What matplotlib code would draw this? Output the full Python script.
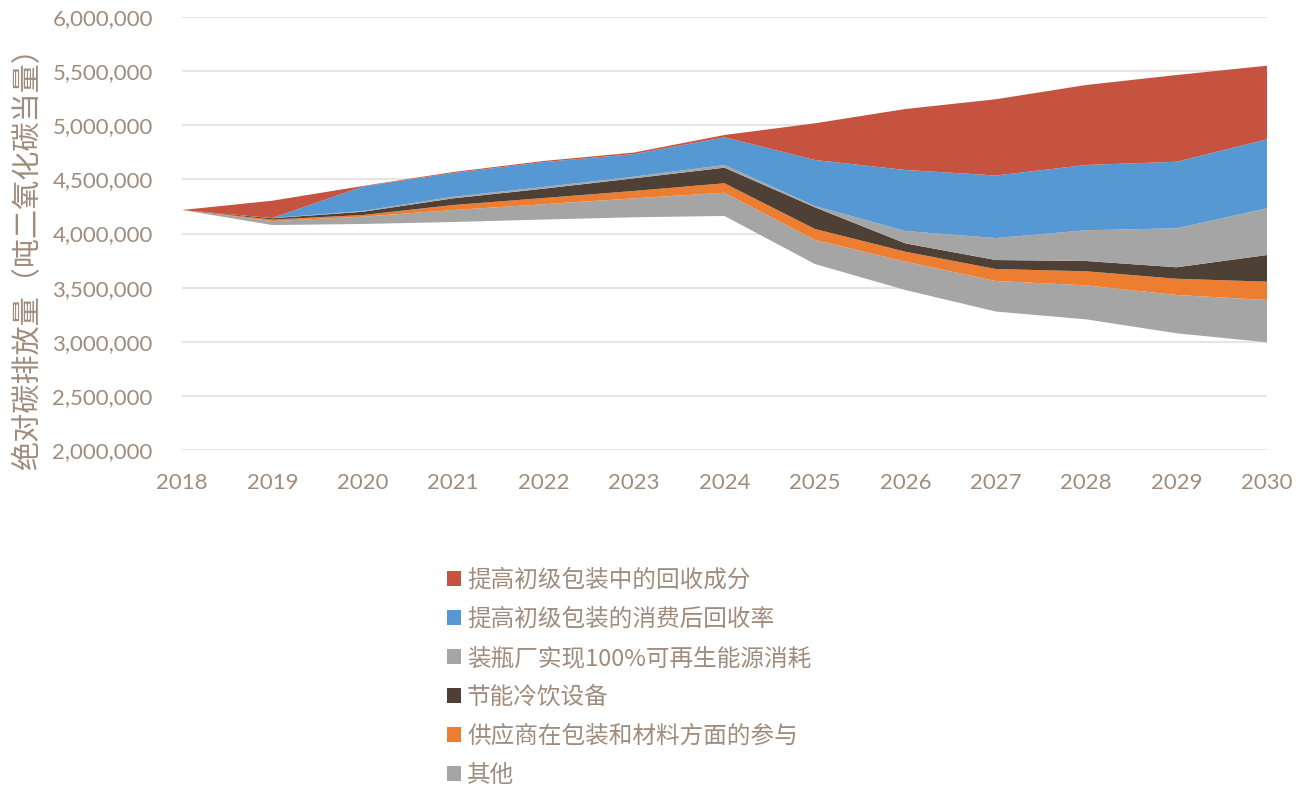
import matplotlib
matplotlib.use("Agg")
import matplotlib.pyplot as plt
from matplotlib.patches import Patch
from matplotlib.ticker import FuncFormatter, MultipleLocator

years = [2018, 2019, 2020, 2021, 2022, 2023, 2024, 2025, 2026, 2027, 2028, 2029, 2030]

# remaining emissions (unfilled base of the stack)
remaining = [4217000, 4078000, 4088000, 4106000, 4129000, 4150000, 4162000,
             3718000, 3478000, 3279000, 3207000, 3078000, 2995000]
# reduction wedges, bottom to top
other = [0, 37000, 67000, 111000, 141000, 175000, 215000,
         222000, 262000, 282000, 314000, 354000, 391000]
suppliers = [0, 14000, 16000, 46000, 58000, 68000, 87000,
             102000, 92000, 111000, 130000, 150000, 169000]
cooling = [0, 12000, 30000, 62000, 86000, 117000, 144000,
           200000, 77000, 83000, 95000, 106000, 246000]
renewable = [0, 2000, 7000, 15000, 16000, 15000, 25000,
             12000, 114000, 203000, 284000, 360000, 432000]
collection = [0, 0, 226000, 219000, 230000, 209000, 256000,
              425000, 564000, 578000, 603000, 615000, 637000]
recycled = [0, 160000, 5000, 9000, 10000, 14000, 21000,
            339000, 563000, 704000, 739000, 801000, 680000]

labels = ["提高初级包装中的回收成分", "提高初级包装的消费后回收率",
          "装瓶厂实现100%可再生能源消耗", "节能冷饮设备",
          "供应商在包装和材料方面的参与", "其他"]
ylabel = "绝对碳排放量（吨二氧化碳当量）"

c_red = "#C55340"
c_blue = "#5698D4"
c_gray = "#A5A5A5"
c_brown = "#4F4036"
c_orange = "#ED7D31"
text_c = "#A08C7C"
grid_c = "#E9E4DF"

cjk = ["Noto Sans CJK SC", "DejaVu Sans"]

fig = plt.figure(figsize=(13.05, 7.86), dpi=100)
ax = fig.add_axes([182/1305, 1-450/786, (1267-182)/1305, (450-17)/786])

ax.stackplot(years, remaining, other, suppliers, cooling, renewable, collection, recycled,
             colors=["none", c_gray, c_orange, c_brown, c_gray, c_blue, c_red],
             linewidth=0, zorder=2)

ax.set_xlim(2018, 2030)
ax.set_ylim(2000000, 6000000)
ax.set_xticks(years)
ax.yaxis.set_major_locator(MultipleLocator(500000))
ax.yaxis.set_major_formatter(FuncFormatter(lambda v, p: f"{v:,.0f}"))
ax.set_axisbelow(True)
ax.grid(axis="y", color=grid_c, linewidth=1.5, zorder=0)
for s in ax.spines.values():
    s.set_visible(False)
ax.tick_params(axis="both", length=0, colors=text_c, labelsize=16)
ax.tick_params(axis="y", pad=21)
ax.tick_params(axis="x", pad=16.5)
for t in ax.get_xticklabels() + ax.get_yticklabels():
    t.set_fontfamily(["Lato", "DejaVu Sans"])

fig.text(27/1305, 1-252/786, ylabel, rotation=90, ha="center", va="center",
         fontsize=21, color=text_c, family=cjk)

handles = [Patch(facecolor=c, edgecolor="none") for c in
           [c_red, c_blue, c_gray, c_brown, c_orange, c_gray]]
leg = fig.legend(handles, labels, loc="upper left",
                 bbox_to_anchor=(447/1305, 1-569/786), frameon=False,
                 prop={"family": cjk, "size": 17}, labelcolor=text_c,
                 handlelength=0.6, handleheight=0.6, handletextpad=0.25,
                 labelspacing=0.68, borderpad=0, borderaxespad=0)

fig.savefig("out.png", dpi=100)
